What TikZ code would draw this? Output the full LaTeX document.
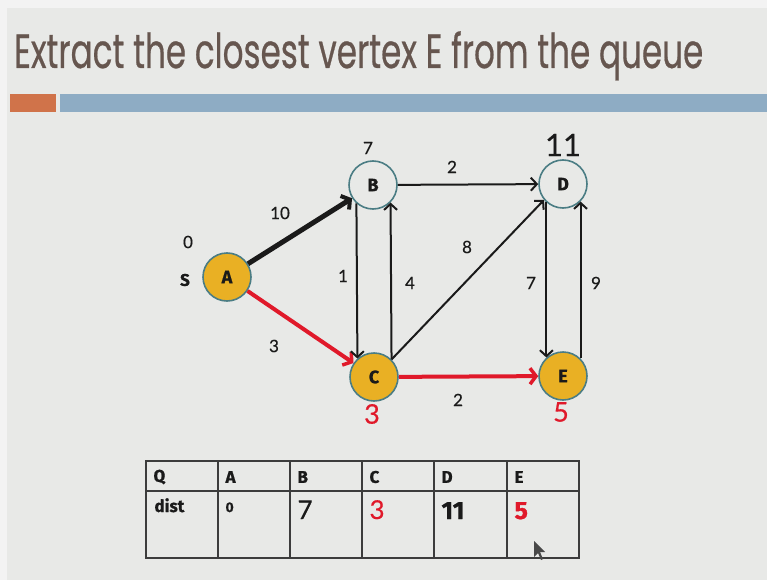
\documentclass[tikz,border=0pt]{standalone}
\usepackage{fontspec}
\setmainfont{Lato}[FakeBold=0.4]
\newfontfamily\titlefont{Poppins}[FakeBold=0.6]
\newfontfamily\heavyfam{Fira Sans}[BoldFeatures={FakeBold=0.8}]
\newcommand{\heavy}{\heavyfam\bfseries}
\usetikzlibrary{arrows.meta}
\definecolor{bgout}{HTML}{F3F3F3}
\definecolor{slide}{HTML}{E8E9E7}
\definecolor{orangebar}{HTML}{D0734A}
\definecolor{bluebar}{HTML}{8EACC4}
\definecolor{titlecol}{HTML}{66564F}
\definecolor{gold}{HTML}{E9B024}
\definecolor{ringcol}{HTML}{4B7D84}
\definecolor{hot}{HTML}{E0192A}
\definecolor{ink}{HTML}{1A1A1A}
\tikzset{
  vertex/.style={circle, minimum size=48pt, inner sep=0pt, draw=ringcol, line width=1.6pt, font=\heavy\fontsize{18}{20}\selectfont, text=ink},
  visited/.style={vertex, fill=gold},
  open/.style={vertex, fill=slide},
  edge/.style={draw=ink, line width=2pt, -{Straight Barb[length=6pt,width=13pt,line width=2pt]}},
  boldedge/.style={draw=ink, line width=5pt, -{Straight Barb[length=6pt,width=16pt,line width=4pt]}},
  redge/.style={draw=hot, line width=4pt, -{Straight Barb[length=6pt,width=16pt,line width=3.5pt]}},
  wlab/.style={font=\fontsize{17}{19}\selectfont, text=ink},
  grid/.style={draw=ink!85, line width=1.5pt},
  head/.style={anchor=west, font=\heavy\fontsize{17}{19}\selectfont, text=ink},
  val/.style={anchor=base west, text=ink},
}
\begin{document}
\begin{tikzpicture}[x=1pt,y=-1pt]
\useasboundingbox (0,0) rectangle (767,580);
\fill[bgout] (0,0) rectangle (767,580);
\fill[slide] (7,8) rectangle (767,580);
\fill[orangebar] (10,94) rectangle (56,112);
\fill[bluebar] (60,94) rectangle (767,112);
\node[anchor=base west, inner sep=0pt, text=titlecol, font=\titlefont\fontsize{48}{54}\selectfont] (title) at (14,68) {\scalebox{0.68}[1]{Extract the closest vertex E from the queue}};

% vertices
\node[visited] (A) at (227,277) {A};
\node[open]    (B) at (373,185) {B};
\node[visited] (C) at (374,377) {C};
\node[open]    (D) at (563,184) {D};
\node[visited] (E) at (563,376) {E};

% distance labels
\node[wlab] (a0) at (188,242) {0};
\node[wlab, font=\heavy\fontsize{17}{19}\selectfont] (aS) at (185,280) {S};
\node[wlab] (b7) at (368,148) {7};
\node[text=ink, font=\fontsize{31}{33}\selectfont] (d11) at (563,145) {11};
\node[text=hot, font=\fontsize{27}{30}\selectfont] (c3) at (372,414) {3};
\node[text=hot, font=\fontsize{27}{30}\selectfont] (e5) at (561,412) {5};

% edges
\draw[boldedge] (A) -- (B);
\draw[redge] (A) -- (C);
\draw[redge] (C) -- (E);
\draw[edge] (B) -- (D);
\draw[edge] (B.-132) -- (C.132);
\draw[edge] (C.45) -- (B.-45);
\draw[edge] (C.45) -- (D.220);
\draw[edge] (D.-132) -- (E.132);
\draw[edge] (E.45) -- (D.-45);

% edge weights
\node[wlab] (w10) at (280,213) {10};
\node[wlab] (w3)  at (274,346) {3};
\node[wlab] (w2a) at (452,167) {2};
\node[wlab] (w1)  at (343,276) {1};
\node[wlab] (w4)  at (410,283) {4};
\node[wlab] (w8)  at (467,247) {8};
\node[wlab] (w7)  at (531,283) {7};
\node[wlab] (w9)  at (596,283) {9};
\node[wlab] (w2b) at (458,400) {2};

% table
\draw[grid] (146,461) rectangle (579,558);
\draw[grid] (146,491) -- (579,491);
\foreach \x in {218,290,362,434,507} { \draw[grid] (\x,461) -- (\x,558); }
\node[head] (hQ) at (150,477) {Q};
\node[head] (hA) at (222,477) {A};
\node[head] (hB) at (294,477) {B};
\node[head] (hC) at (366,477) {C};
\node[head] (hD) at (438,477) {D};
\node[head] (hE) at (511,477) {E};
\node[val, font=\heavy\fontsize{17}{19}\selectfont] (vd) at (151,512) {dist};
\node[val, font=\heavy\fontsize{14}{17}\selectfont] (v0) at (222,512) {0};
\node[val, font=\fontsize{26}{28}\selectfont] (v7) at (294,519) {7};
\node[val, text=hot, font=\fontsize{26}{28}\selectfont] (v3) at (366,519) {3};
\node[val, font=\heavy\fontsize{25}{28}\selectfont] (v11) at (438,519) {11};
\node[val, text=hot, font=\heavy\fontsize{25}{28}\selectfont] (v5) at (511,519) {5};

% mouse pointer
\fill[ink!80] (534,541) -- (534,557) -- (538,553) -- (541,560) -- (543,559) -- (540,552) -- (545,552) -- cycle;
\end{tikzpicture}
\end{document}
